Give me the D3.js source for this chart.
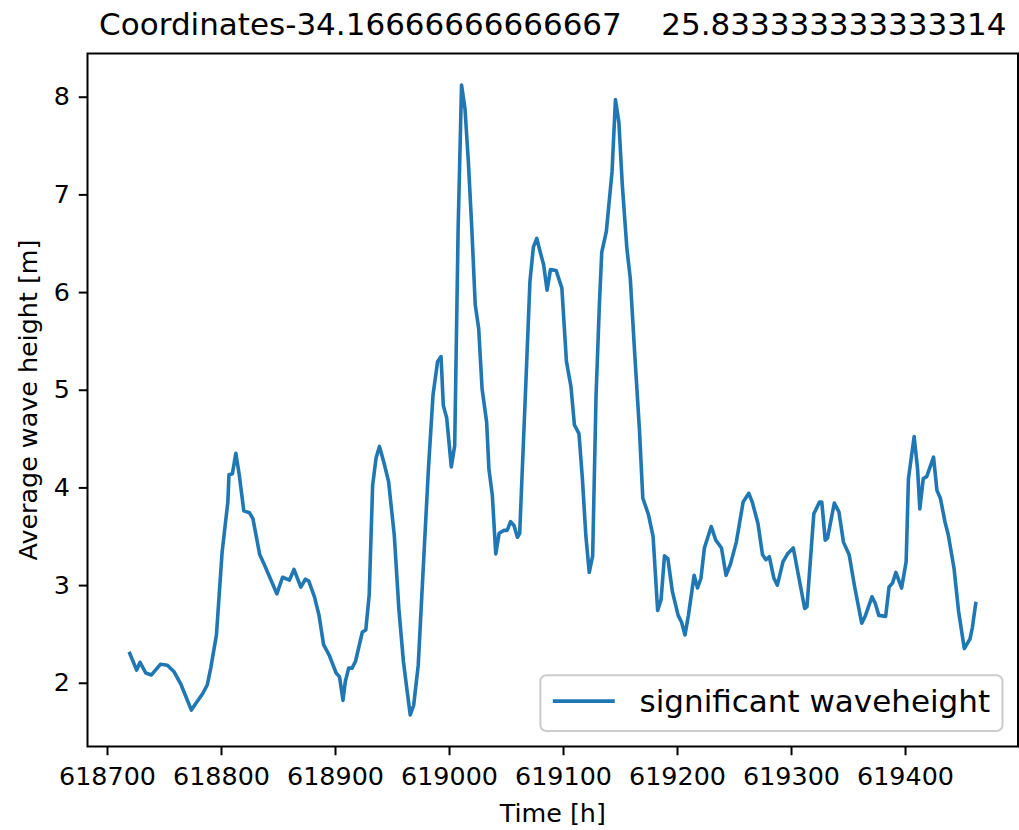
<!DOCTYPE html>
<html>
<head>
<meta charset="utf-8">
<script src="https://cdn.jsdelivr.net/npm/d3@7"></script>
<style>
    body { margin: 0; background: #fff; }
    svg text { font-family: "DejaVu Sans", sans-serif; fill: #000; }
</style>
</head>
<body>
<svg id="chart" width="1019" height="830"></svg>
<script>
// values
const hours = [
    618720, 618726, 618729, 618734, 618739, 618747, 618753, 618759, 618765, 618774,
    618778, 618784, 618788, 618791, 618796, 618801, 618806, 618807, 618810, 618813,
    618816, 618820, 618825, 618828, 618834, 618838, 618842, 618849, 618854, 618860,
    618864, 618870, 618874, 618877, 618882, 618886, 618890, 618895, 618901, 618904,
    618907, 618909, 618912, 618915, 618918, 618924, 618927, 618930, 618933, 618936,
    618939, 618943, 618947, 618952, 618956, 618960, 618963, 618966, 618969, 618973,
    618978, 618982, 618986, 618990, 618993, 618995, 618998, 619002, 619005, 619008,
    619011, 619014, 619017, 619020, 619023, 619026, 619029, 619033, 619035, 619038,
    619041, 619044, 619048, 619051, 619054, 619057, 619060, 619062, 619067, 619071,
    619074, 619077, 619080, 619083, 619086, 619089, 619094, 619099, 619103, 619107,
    619110, 619114, 619117, 619120, 619123, 619126, 619129, 619132, 619134, 619138,
    619143, 619146, 619149, 619152, 619156, 619159, 619163, 619167, 619170, 619175,
    619179, 619183, 619186, 619189, 619192, 619196, 619201, 619204, 619207, 619210,
    619215, 619218, 619221, 619224, 619230, 619234, 619239, 619243, 619247, 619252,
    619258, 619263, 619266, 619271, 619275, 619278, 619281, 619285, 619288, 619293,
    619297, 619302, 619307, 619312, 619314, 619320, 619325, 619327, 619330, 619332,
    619338, 619342, 619346, 619351, 619356, 619362, 619365, 619371, 619374, 619377,
    619383, 619386, 619389, 619392, 619397, 619401, 619403, 619408, 619411, 619413,
    619416, 619419, 619425, 619428, 619431, 619435, 619438, 619443, 619447, 619452,
    619457, 619459, 619462
];

const waveHeights = [
    2.30, 2.13, 2.21, 2.10, 2.08, 2.19, 2.18, 2.11, 1.98, 1.72,
    1.79, 1.89, 1.98, 2.15, 2.49, 3.34, 3.85, 4.13, 4.14, 4.35,
    4.13, 3.76, 3.74, 3.68, 3.31, 3.21, 3.10, 2.91, 3.08, 3.05,
    3.16, 2.98, 3.06, 3.04, 2.88, 2.69, 2.39, 2.28, 2.10, 2.06,
    1.82, 2.01, 2.15, 2.15, 2.22, 2.52, 2.54, 2.90, 4.02, 4.30,
    4.42, 4.25, 4.06, 3.51, 2.76, 2.22, 1.94, 1.67, 1.77, 2.18,
    3.31, 4.20, 4.95, 5.29, 5.34, 4.84, 4.71, 4.21, 4.43, 6.65,
    8.12, 7.88, 7.33, 6.65, 5.87, 5.63, 5.01, 4.67, 4.19, 3.92,
    3.32, 3.53, 3.56, 3.56, 3.65, 3.61, 3.49, 3.53, 4.95, 6.11,
    6.46, 6.55, 6.41, 6.28, 6.02, 6.23, 6.22, 6.04, 5.29, 5.03,
    4.64, 4.55, 4.09, 3.51, 3.13, 3.30, 4.95, 5.90, 6.41, 6.62,
    7.23, 7.97, 7.74, 7.10, 6.45, 6.14, 5.35, 4.60, 3.89, 3.72,
    3.50, 2.74, 2.85, 3.30, 3.27, 2.93, 2.69, 2.62, 2.49, 2.69,
    3.10, 2.97, 3.07, 3.38, 3.60, 3.46, 3.38, 3.10, 3.22, 3.44,
    3.85, 3.94, 3.85, 3.63, 3.31, 3.26, 3.29, 3.07, 3.00, 3.24,
    3.32, 3.38, 3.07, 2.76, 2.78, 3.73, 3.85, 3.85, 3.46, 3.48,
    3.84, 3.75, 3.44, 3.31, 2.97, 2.61, 2.68, 2.88, 2.81, 2.69,
    2.68, 2.98, 3.02, 3.13, 2.97, 3.24, 4.09, 4.52, 4.19, 3.78,
    4.09, 4.11, 4.31, 3.97, 3.89, 3.65, 3.51, 3.17, 2.73, 2.35,
    2.45, 2.56, 2.81
];

const xTicks = [618700, 618800, 618900, 619000, 619100, 619200, 619300, 619400];
const yTicks = [2, 3, 4, 5, 6, 7, 8];

const seriesName = "significant waveheight";
const chartTitle = "Coordinates-34.16666666666667    25.833333333333314";
const xLabel = "Time [h]";
const yLabel = "Average wave height [m]";

class WaveChart {
    constructor(svg) {
        this.svg = svg;
        this.draw();
    }

    draw() {
        this.setLayout();
        this.setScales();
        this.renderAxes();
        this.renderLine();
        this.renderFrame();
        this.renderLabels();
        this.renderLegend();
    }

    setLayout() {
        this.left = 87.5;
        this.right = 1018;
        this.top = 53.5;
        this.bottom = 746.5;
        this.tickFont = 25.4;
        this.bigFont = 31;
        this.lineColor = "#1f77b4";
    }

    // matplotlib style: 5% margin on each side of the data
    padded(values) {
        const [lo, hi] = d3.extent(values);
        const m = (hi - lo) * 0.05;
        return [lo - m, hi + m];
    }

    setScales() {
        this.x = d3.scaleLinear().domain(this.padded(hours)).range([this.left, this.right]);
        this.y = d3.scaleLinear().domain(this.padded(waveHeights)).range([this.bottom, this.top]);
    }

    renderAxes() {
        const xAxis = d3.axisBottom(this.x)
            .tickValues(xTicks)
            .tickFormat(d3.format("d"))
            .tickSize(8.75)
            .tickPadding(11.5);

        const yAxis = d3.axisLeft(this.y)
            .tickValues(yTicks)
            .tickFormat(d3.format("d"))
            .tickSize(8.75)
            .tickPadding(8.75);

        const gx = this.svg.append("g")
            .attr("transform", `translate(0,${this.bottom})`)
            .call(xAxis);
        const gy = this.svg.append("g")
            .attr("transform", `translate(${this.left},0)`)
            .call(yAxis);

        [gx, gy].forEach(g => {
            g.select(".domain").remove();
            g.selectAll("line").attr("stroke", "#000").attr("stroke-width", 2);
            g.selectAll("text")
                .attr("font-family", "DejaVu Sans")
                .attr("font-size", this.tickFont)
                .attr("fill", "#000");
        });
    }

    renderLine() {
        const line = d3.line()
            .x((d, i) => this.x(hours[i]))
            .y(d => this.y(d));

        this.svg.append("path")
            .datum(waveHeights)
            .attr("fill", "none")
            .attr("stroke", this.lineColor)
            .attr("stroke-width", 3.6)
            .attr("stroke-linejoin", "round")
            .attr("stroke-linecap", "square")
            .attr("d", line);
    }

    renderFrame() {
        this.svg.append("rect")
            .attr("x", this.left)
            .attr("y", this.top)
            .attr("width", this.right - this.left)
            .attr("height", this.bottom - this.top)
            .attr("fill", "none")
            .attr("stroke", "#000")
            .attr("stroke-width", 2);
    }

    renderLabels() {
        const cx = (this.left + this.right) / 2;
        const cy = (this.top + this.bottom) / 2;

        this.svg.append("text")
            .attr("x", cx)
            .attr("y", 35)
            .attr("text-anchor", "middle")
            .attr("font-size", this.bigFont)
            .style("white-space", "pre")
            .text(chartTitle);

        this.svg.append("text")
            .attr("x", cx)
            .attr("y", 822)
            .attr("text-anchor", "middle")
            .attr("font-size", this.tickFont)
            .text(xLabel);

        this.svg.append("text")
            .attr("transform", `translate(37,${cy}) rotate(-90)`)
            .attr("text-anchor", "middle")
            .attr("font-size", this.tickFont)
            .text(yLabel);
    }

    renderLegend() {
        const fs = this.bigFont;
        const g = this.svg.append("g");

        const label = g.append("text")
            .attr("font-size", fs)
            .text(seriesName);
        const textW = label.node().getComputedTextLength();

        const boxW = 0.4 * fs + 2 * fs + 0.8 * fs + textW + 0.4 * fs;
        const boxH = 1.8 * fs;
        const bx = this.right - 0.5 * fs - boxW;
        const by = this.bottom - 0.5 * fs - boxH;

        g.insert("rect", "text")
            .attr("x", bx)
            .attr("y", by)
            .attr("width", boxW)
            .attr("height", boxH)
            .attr("rx", 6)
            .attr("fill", "#fff")
            .attr("fill-opacity", 0.8)
            .attr("stroke", "#cccccc")
            .attr("stroke-width", 2);

        const midY = by + boxH / 2 - 2;
        g.append("line")
            .attr("x1", bx + 0.4 * fs)
            .attr("x2", bx + 2.4 * fs)
            .attr("y1", midY)
            .attr("y2", midY)
            .attr("stroke", this.lineColor)
            .attr("stroke-width", 3.6);

        label.attr("x", bx + 3.2 * fs)
            .attr("y", midY)
            .attr("dy", "0.36em");
    }
}

new WaveChart(d3.select("#chart"));
</script>
</body>
</html>
